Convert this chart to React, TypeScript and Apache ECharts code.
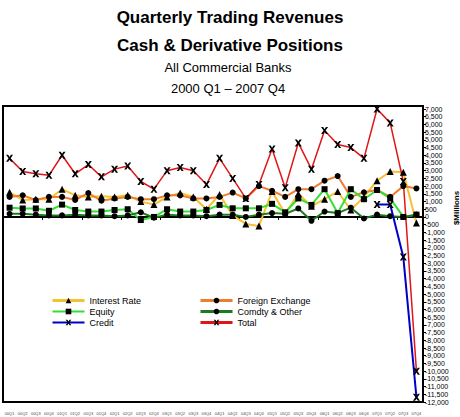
import React, { useEffect, useRef } from 'react';
import * as echarts from 'echarts';

const quarters = ['00Q1','00Q2','00Q3','00Q4','01Q1','01Q2','01Q3','01Q4','02Q1','02Q2','02Q3','02Q4','03Q1','03Q2','03Q3','03Q4','04Q1','04Q2','04Q3','04Q4','05Q1','05Q2','05Q3','05Q4','06Q1','06Q2','06Q3','06Q4','07Q1','07Q2','07Q3','07Q4'];

const interestRate = [1600,1100,1150,1150,1800,1400,1300,1350,1300,1400,1000,800,1300,1550,1300,500,1450,100,-450,-580,1650,200,1500,700,1150,1650,450,1300,2350,2950,2900,-400];
const foreignExchange = [1300,1400,1100,1300,1300,1100,1550,1050,1200,1300,1150,1150,1400,1400,1200,1200,1300,1580,1200,2000,1700,1300,1800,1800,2350,2650,1300,1600,1750,1300,2000,1850];
const equity = [600,550,550,400,800,450,350,350,450,500,-200,0,500,350,350,450,780,560,560,560,850,300,1200,780,1800,250,1800,1150,1750,1200,0,150];
const comdtyOther = [200,200,150,100,100,150,100,100,50,100,300,-50,150,100,100,50,150,150,0,150,250,200,550,-250,350,250,600,-100,150,50,0,150];
const credit: (number | null)[] = [null,null,null,null,null,null,null,null,null,null,null,null,null,null,null,null,null,null,null,null,null,null,null,null,null,null,null,null,800,800,-2600,-11700];
const total = [3800,2950,2800,2700,4000,2800,3400,2600,3100,3300,2300,1800,3000,3200,3000,2100,3800,2500,1200,2100,4400,1900,4800,3100,5600,4700,4500,3800,7000,6100,2300,-10000];

const titleLines = ['Quarterly Trading Revenues', 'Cash & Derivative Positions', 'All Commercial Banks', '2000 Q1 \u2013 2007 Q4'];

const COLORS = {
  ir: '#F5C12E',
  fx: '#EE7D2E',
  eq: '#33E033',
  cm: '#1E7A1E',
  cr: '#0000C8',
  tot: '#E01515',
};

const X_SYMBOL = 'path://M0,0L3,0L5,3L7,0L10,0L6.5,5L10,10L7,10L5,7L3,10L0,10L3.5,5Z';
const FONT = '"Liberation Sans", Arial, sans-serif';

export default function App() {
  const ref = useRef<HTMLDivElement>(null);
  useEffect(() => {
    const chart = echarts.init(ref.current!, null, { renderer: 'svg' });
    const mk = (name: string, data: any[], color: string, width: number, symbol: string, size: number) => ({
      name,
      type: 'line',
      data,
      xAxisIndex: 0,
      yAxisIndex: 0,
      symbol,
      symbolSize: size,
      showSymbol: true,
      connectNulls: false,
      lineStyle: { color, width },
      itemStyle: { color: '#000' },
      emphasis: { disabled: true },
    });
    const legendText = { fontSize: 9, color: '#000', fontFamily: FONT, lineHeight: 11 };
    const option: any = {
      animation: false,
      textStyle: { fontFamily: FONT },
      grid: { left: 3, right: 37, top: 109, bottom: 15, containLabel: false },
      graphic: [
        { type: 'text', x: 230, y: 17, style: { text: titleLines[0], align: 'center', verticalAlign: 'middle', font: 'bold 17px ' + FONT, fill: '#000' } },
        { type: 'text', x: 230, y: 45, style: { text: titleLines[1], align: 'center', verticalAlign: 'middle', font: 'bold 17px ' + FONT, fill: '#000' } },
        { type: 'text', x: 228, y: 67, style: { text: titleLines[2], align: 'center', verticalAlign: 'middle', font: '13px ' + FONT, fill: '#000' } },
        { type: 'text', x: 228, y: 88, style: { text: titleLines[3], align: 'center', verticalAlign: 'middle', font: '13px ' + FONT, fill: '#000' } },
        { type: 'text', x: 456, y: 208, rotation: Math.PI / 2, style: { text: '$Millions', align: 'center', verticalAlign: 'middle', font: 'bold 8px ' + FONT, fill: '#000' } },
        { type: 'rect', silent: true, shape: { x: 3, y: 106, width: 420, height: 296 }, style: { fill: 'none', stroke: '#000', lineWidth: 2 } },
      ],
      legend: [
        {
          data: [
            { name: 'Interest Rate', lineStyle: { color: COLORS.ir, width: 3 } },
            { name: 'Equity', lineStyle: { color: COLORS.eq, width: 2 } },
            { name: 'Credit', lineStyle: { color: COLORS.cr, width: 2 } },
          ],
          orient: 'vertical', left: 46, top: 290, itemWidth: 32, itemHeight: 7, itemGap: 0,
          textStyle: legendText,
        },
        {
          data: [
            { name: 'Foreign Exchange', lineStyle: { color: COLORS.fx, width: 3 } },
            { name: 'Comdty & Other', lineStyle: { color: COLORS.cm, width: 3 } },
            { name: 'Total', lineStyle: { color: COLORS.tot, width: 3 } },
          ],
          orient: 'vertical', left: 194, top: 290, itemWidth: 32, itemHeight: 7, itemGap: 0,
          textStyle: legendText,
        },
      ],
      xAxis: [
        {
          type: 'category', data: quarters, boundaryGap: true, position: 'bottom',
          axisLine: { onZero: true, lineStyle: { color: '#000', width: 2 } },
          axisTick: { show: true, length: 3, lineStyle: { color: '#000' } },
          axisLabel: { show: false },
          splitLine: { show: false },
        },
        {
          type: 'category', data: quarters, boundaryGap: true, position: 'bottom',
          axisLine: { show: false, onZero: false },
          axisTick: { show: false },
          axisLabel: { show: true, interval: 0, fontSize: 4, color: '#444', margin: 9, fontFamily: FONT },
          splitLine: { show: false },
        },
      ],
      yAxis: {
        type: 'value', position: 'right', min: -12000, max: 7000, interval: 500,
        axisLine: { show: true, lineStyle: { color: '#000', width: 1 } },
        axisTick: { show: true, length: 3, lineStyle: { color: '#000' } },
        axisLabel: { fontSize: 7, color: '#000', margin: 2, fontFamily: FONT, formatter: (v: number) => v.toLocaleString('en-US') },
        splitLine: { show: false },
      },
      series: [
        mk('Interest Rate', interestRate, COLORS.ir, 2, 'triangle', 7),
        mk('Foreign Exchange', foreignExchange, COLORS.fx, 2, 'circle', 6),
        mk('Equity', equity, COLORS.eq, 2, 'rect', 6),
        mk('Comdty & Other', comdtyOther, COLORS.cm, 2, 'circle', 6),
        mk('Credit', credit, COLORS.cr, 2, X_SYMBOL, 7),
        mk('Total', total, COLORS.tot, 1.5, X_SYMBOL, 7),
      ],
    };
    chart.setOption(option);
    return () => chart.dispose();
  }, []);
  return <div ref={ref} style={{ position: 'absolute', left: 0, top: 0, width: 460, height: 417 }} />;
}
